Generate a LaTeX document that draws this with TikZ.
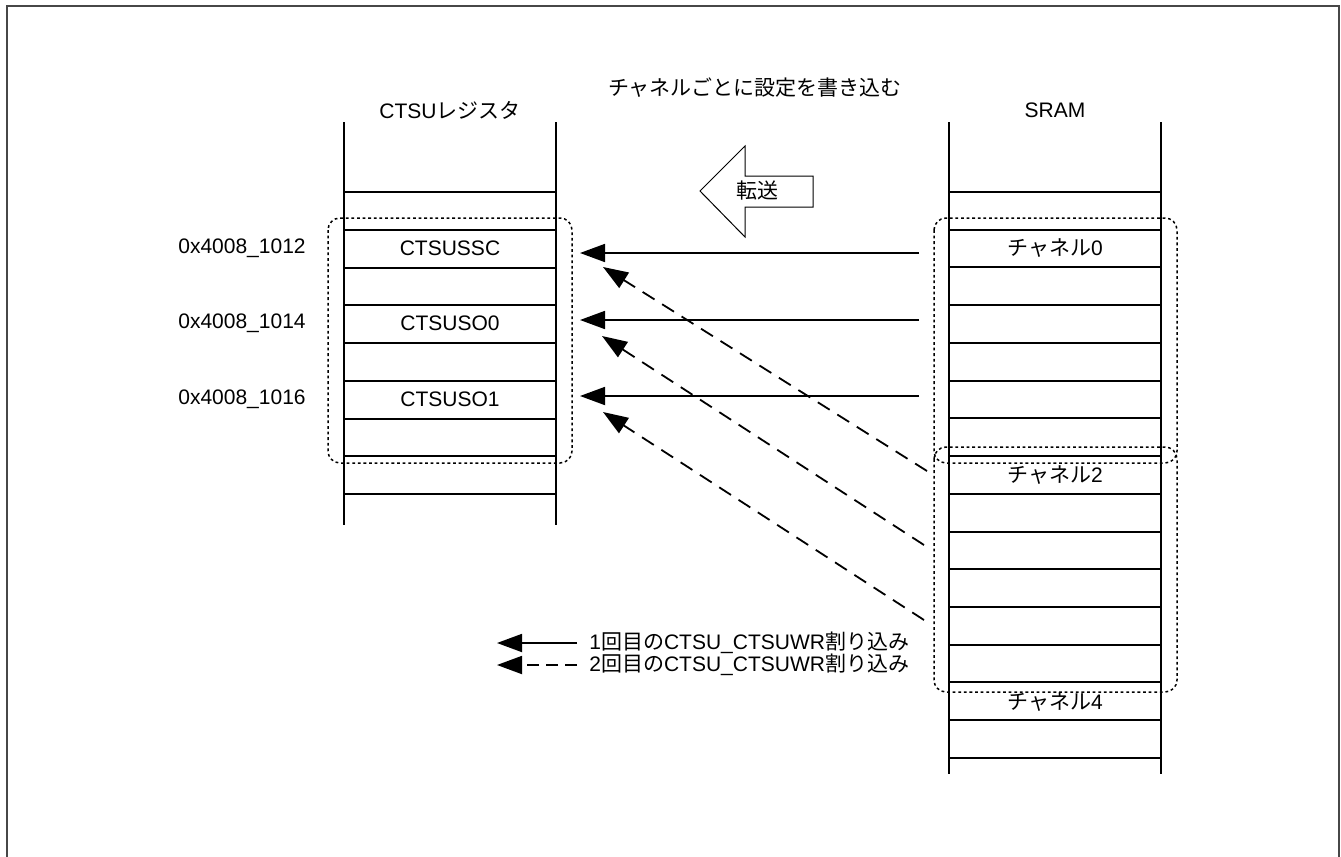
\documentclass[tikz,border=0pt]{standalone}
\usepackage{fontspec}
\setmainfont{Liberation Sans}
\newfontfamily\cjk{Noto Sans CJK JP}
\usetikzlibrary{arrows.meta}

\begin{document}
\begin{tikzpicture}[x=0.5pt,y=-0.5pt,>={Triangle[length=12.5pt,width=9pt]},
  lbl/.style={font=\fontsize{10.5}{12}\selectfont,inner sep=0pt},
  col/.style={line width=1pt},
  arr/.style={->,line width=0.9pt},
  darr/.style={->,line width=0.9pt,dash pattern=on 7pt off 4.5pt},
  grp/.style={line width=0.75pt,dash pattern=on 1.4pt off 1.4pt,rounded corners=6pt}]
\useasboundingbox (0,0) rectangle (1341,857);
\draw[line width=1pt,black!72] (7,857) -- (7,6) -- (1339,6) -- (1339,857);
\node[lbl] (ttl) at (755,88) {\cjk チャネルごとに設定を書き込む};
\node[lbl] (regt) at (450,110) {CTSU{\cjk レジスタ}};
\node[lbl] (sramt) at (1055,110) {SRAM};
\draw[col] (344,122) -- (344,525) (556,122) -- (556,525);
\foreach \k in {0,...,8} \draw[col] (344,{192+37.75*\k}) -- (556,{192+37.75*\k});
\draw[col] (949,122) -- (949,774) (1161,122) -- (1161,774);
\foreach \k in {0,...,15} \draw[col] (949,{192+37.73*\k}) -- (1161,{192+37.73*\k});
\node[lbl] (ad0) at (242,248) {0x4008\_1012};
\node[lbl] (ad1) at (242,323) {0x4008\_1014};
\node[lbl] (ad2) at (242,399) {0x4008\_1016};
\node[lbl] (sscn) at (450,248) {CTSUSSC};
\node[lbl] (so0n) at (450,323) {CTSUSO0};
\node[lbl] (so1n) at (450,399) {CTSUSO1};
\node[lbl] (ch0) at (1055,248) {{\cjk チャネル}0};
\node[lbl] (ch2) at (1055,475) {{\cjk チャネル}2};
\node[lbl] (ch4) at (1055,702) {{\cjk チャネル}4};
\draw[grp] (328,218) rectangle (572,463);
\draw[grp] (934,218) rectangle (1177,463);
\draw[grp] (934,447) rectangle (1177,692);
\draw[line width=0.5pt] (700,191) -- (745,146) -- (745,176) -- (813,176) -- (813,207) -- (745,207) -- (745,237) -- cycle;
\node[lbl] (xfer) at (757,191) {\cjk 転送};
\coordinate (s0) at (919,253); \coordinate (r0) at (580,253);
\coordinate (s1) at (919,320); \coordinate (r1) at (580,320);
\coordinate (s2) at (919,396); \coordinate (r2) at (580,396);
\draw[arr] (s0) -- (r0);
\draw[arr] (s1) -- (r1);
\draw[arr] (s2) -- (r2);
\coordinate (d0) at (927,471); \coordinate (q0) at (603,267);
\coordinate (d1) at (924,545); \coordinate (q1) at (602,336);
\coordinate (d2) at (924,620); \coordinate (q2) at (603,412);
\draw[darr] (d0) -- (q0);
\draw[darr] (d1) -- (q1);
\draw[darr] (d2) -- (q2);
\coordinate (l0) at (577,643); \coordinate (k0) at (497,643);
\coordinate (l1) at (577,665); \coordinate (k1) at (497,665);
\draw[arr] (l0) -- (k0);
\draw[->,line width=0.9pt,dash pattern=on 6pt off 3.5pt] (l1) -- (k1);
\node[lbl,anchor=west] (lg0) at (589,643) {1{\cjk 回目の}CTSU\_CTSUWR{\cjk 割り込み}};
\node[lbl,anchor=west] (lg1) at (589,665) {2{\cjk 回目の}CTSU\_CTSUWR{\cjk 割り込み}};
\end{tikzpicture}
\end{document}
